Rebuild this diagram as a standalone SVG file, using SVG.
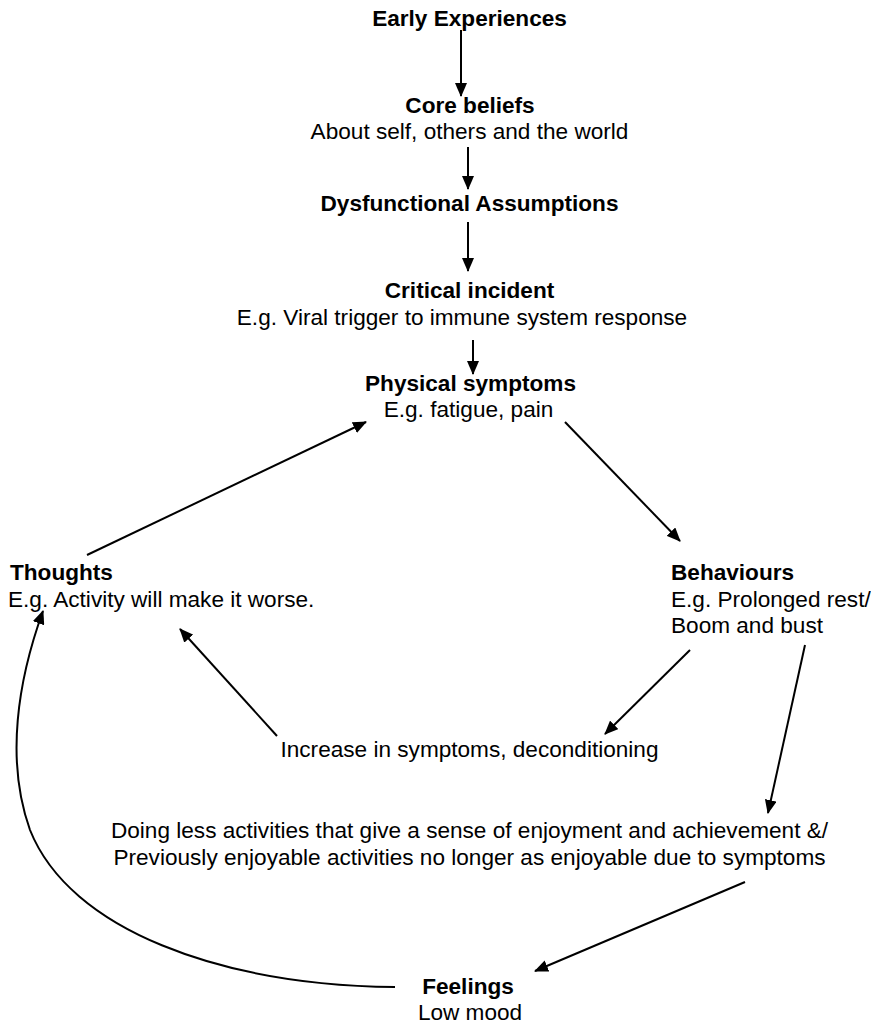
<svg xmlns="http://www.w3.org/2000/svg" width="871" height="1024" viewBox="0 0 871 1024">
<style>
text{font-family:"Liberation Sans",Arial,sans-serif;font-size:22.6px;fill:#000}
.b{font-weight:bold}
.c{text-anchor:middle}
.ln{stroke:#000;stroke-width:2;fill:none;marker-end:url(#ah)}
</style>
<defs>
<marker id="ah" markerWidth="14" markerHeight="12" refX="13" refY="6" orient="auto" markerUnits="userSpaceOnUse">
<path d="M0,0 L14,6 L0,12 Z" fill="#000"/>
</marker>
</defs>
<rect width="871" height="1024" fill="#fff"/>
<g id="early"><text class="b c" x="469.5" y="26">Early Experiences</text></g>
<g id="core"><text class="b c" x="470" y="113">Core beliefs</text><text class="c" x="469.5" y="139">About self, others and the world</text></g>
<g id="dysfunctional"><text class="b c" x="469.5" y="211">Dysfunctional Assumptions</text></g>
<g id="critical"><text class="b c" x="469.5" y="298">Critical incident</text><text class="c" x="462" y="325">E.g. Viral trigger to immune system response</text></g>
<g id="physical"><text class="b c" x="470.5" y="391">Physical symptoms</text><text class="c" x="468.5" y="417">E.g. fatigue, pain</text></g>
<g id="thoughts"><text class="b" x="10" y="580">Thoughts</text><text x="8" y="607">E.g. Activity will make it worse.</text></g>
<g id="behaviours"><text class="b" x="671" y="580">Behaviours</text><text x="671" y="607">E.g. Prolonged rest/</text><text x="671" y="633">Boom and bust</text></g>
<g id="increase"><text class="c" x="469.5" y="757">Increase in symptoms, deconditioning</text></g>
<g id="doingless"><text class="c" x="469.5" y="838">Doing less activities that give a sense of enjoyment and achievement &amp;/</text><text class="c" x="469.5" y="865">Previously enjoyable activities no longer as enjoyable due to symptoms</text></g>
<g id="feelings"><text class="b c" x="468" y="994">Feelings</text><text class="c" x="470" y="1020">Low mood</text></g>
<g id="connectors">
<line class="ln" x1="461" y1="30" x2="461" y2="96"/>
<line class="ln" x1="468" y1="147" x2="468" y2="189"/>
<line class="ln" x1="468" y1="222" x2="468" y2="271"/>
<line class="ln" x1="473" y1="340" x2="473" y2="374"/>
<line class="ln" x1="87" y1="555" x2="366" y2="422"/>
<line class="ln" x1="565" y1="422" x2="680" y2="541"/>
<line class="ln" x1="690" y1="650" x2="605" y2="734"/>
<line class="ln" x1="805" y1="645" x2="768" y2="813"/>
<line class="ln" x1="277" y1="736" x2="180" y2="629"/>
<line class="ln" x1="745" y1="882" x2="535" y2="971"/>
<path class="ln" d="M395,987 C220,985 70,930 30,830 C5,760 18,680 43,611"/>
</g>
</svg>
